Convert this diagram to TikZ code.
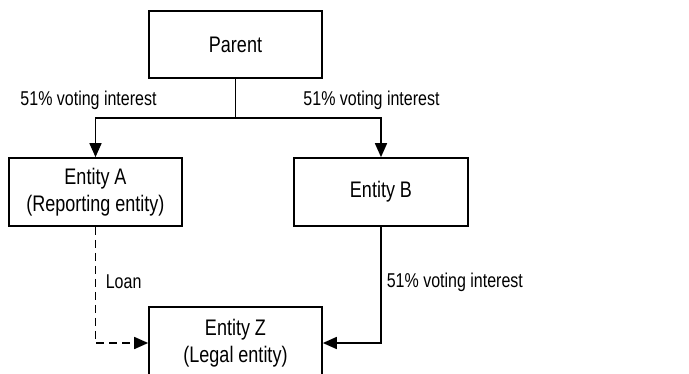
\documentclass[tikz,border=0pt]{standalone}
\usepackage{fontspec}
\setmainfont{Liberation Sans}[FakeStretch=0.8]
\usetikzlibrary{arrows.meta}

\begin{document}
\begin{tikzpicture}[x=1pt, y=-1pt, line width=1.7pt,
    box/.style={draw, rectangle, inner sep=0pt, align=center,
                font=\fontsize{22.5}{27}\selectfont},
    lbl/.style={inner sep=0pt, font=\fontsize{20}{23}\selectfont},
    arr/.style={-{Triangle[length=14pt,width=12pt]}},
    loan/.style={arr, dash pattern=on 8pt off 5pt}]
                \useasboundingbox (0,0) rectangle (689,373);
                \clip (0,0) rectangle (689,373);

                % Nodes
                \node[box, minimum width=173pt, minimum height=67pt] (parent) at (235.5,44.5) {Parent};
                \node[box, minimum width=173pt, minimum height=68pt] (entA) at (95.5,192) {Entity A\\(Reporting entity)};
                \node[box, minimum width=174pt, minimum height=68pt] (entB) at (381,192) {Entity B};
                \node[box, minimum width=173pt, minimum height=72pt] (entZ) at (235.5,343) {Entity Z\\(Legal entity)};
                \coordinate (split) at (235.5,118);

                % Labels
                \node[lbl] (votA) at (88.5,100) {51\% voting interest};
                \node[lbl] (votB) at (371.5,100) {51\% voting interest};
                \node[lbl, anchor=west] (loanlbl) at (105,282) {Loan};
                \node[lbl, anchor=west] (votZ) at (386,282) {51\% voting interest};

                % Edges
                \draw (parent) -- (split);
                \draw[arr] (split) -| (entA);
                \draw[arr] (split) -| (entB);
                \draw[loan] (entA) |- (entZ);
                \draw[arr] (entB) |- (entZ);
            \end{tikzpicture}
\end{document}
